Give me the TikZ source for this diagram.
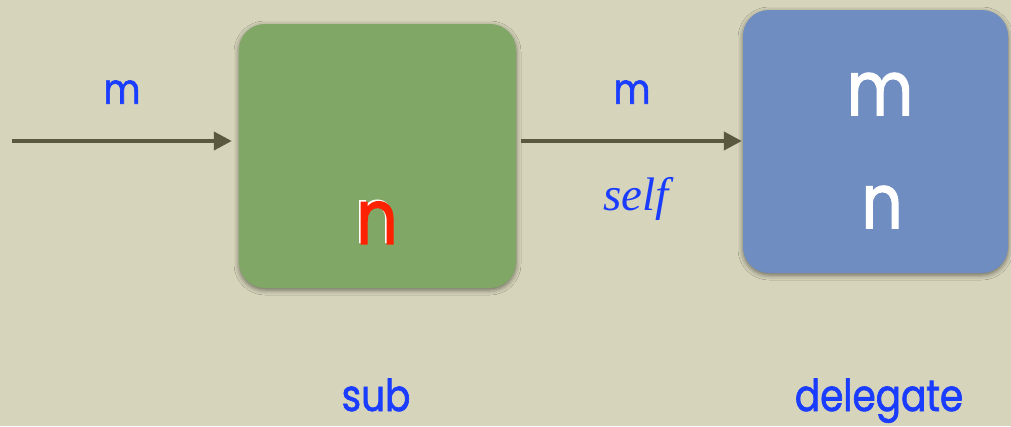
\documentclass[tikz,border=0pt]{standalone}
\usepackage{fontspec}
\setmainfont{Poppins}[FakeStretch=0.85,FakeBold=1.5]
\newfontfamily\selffont{Liberation Serif}
\usetikzlibrary{arrows.meta,shadows.blur}
\definecolor{bgc}{RGB}{214,212,186}
\definecolor{greenbox}{RGB}{128,167,102}
\definecolor{bluebox}{RGB}{112,141,194}
\definecolor{arrc}{RGB}{90,88,62}
\definecolor{lblblue}{RGB}{26,60,255}
\definecolor{redn}{RGB}{255,34,0}
\tikzset{
  box/.style={rounded corners=26pt, inner sep=0pt,
    blur shadow={shadow xshift=0pt, shadow yshift=-2pt, shadow blur radius=5pt, shadow opacity=50}},
  arr/.style={draw=arrc, line width=4pt, -{Triangle[length=18pt,width=18pt]}},
  lbl/.style={inner sep=0pt, text=lblblue, font=\fontsize{42}{42}\selectfont},
  botlbl/.style={inner sep=0pt, anchor=base, text=lblblue, font=\fontsize{44}{44}\selectfont},
  big/.style={inner sep=0pt, font=\fontsize{76}{76}\selectfont},
}
\begin{document}
\begin{tikzpicture}[x=1pt,y=-1pt]
\fill[bgc] (0,0) rectangle (1011,426);
\useasboundingbox (0,0) rectangle (1011,426);
\node[box, fill=greenbox, minimum width=277pt, minimum height=264pt] (sub) at (377.5,156) {};
\node[box, fill=bluebox, minimum width=265pt, minimum height=263pt] (del) at (875.5,141.5) {};
\node[big, text=redn] (nred) at (377,222) {\makebox[0pt][l]{\kern-1.5pt\raisebox{1.5pt}{\color{white}n}}n};
\node[big, text=white] (mdel) at (880,94) {m};
\node[big, text=white] (ndel) at (882,207) {n};
\coordinate (start) at (12,141);
\draw[arr, shorten >=7pt] (start) -- (start -| sub.west);
\draw[arr, shorten <=5pt, shorten >=1pt] (sub.east |- start) -- (del.west |- start);
\node[lbl] (m1) at (122,92) {m};
\node[lbl] (m2) at (632,92) {m};
\node[inner sep=0pt, anchor=base, text=lblblue, font=\selffont\itshape\fontsize{47}{47}\selectfont] (self) at (636,210) {self};
\node[botlbl] (subl) at (376,411) {sub};
\node[botlbl] (dell) at (879,411) {delegate};
\end{tikzpicture}
\end{document}
